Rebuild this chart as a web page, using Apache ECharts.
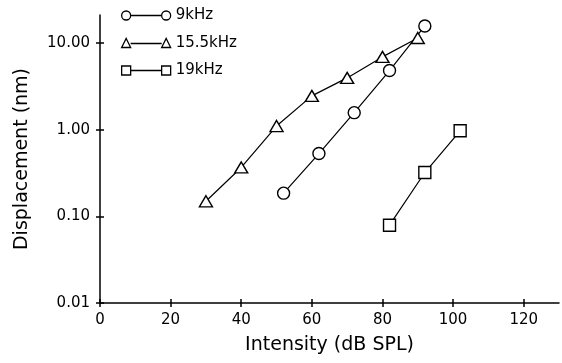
<!DOCTYPE html>
<html>
<head>
<meta charset="utf-8">
<script src="https://cdn.jsdelivr.net/npm/echarts@6/dist/echarts.min.js"></script>
<style>html,body{margin:0;padding:0;background:#fff}#c{width:562px;height:363px}</style>
</head>
<body>
<div id="c"></div>
<script>
var seriesNames = ['9kHz', '15.5kHz', '19kHz'];
var x9 = [52, 62, 72, 82, 92];
var y9 = [0.185, 0.53, 1.57, 4.8, 15.7];
var x155 = [30, 40, 50, 60, 70, 80, 90];
var y155 = [0.149, 0.366, 1.1, 2.45, 3.95, 6.9, 11.4];
var x19 = [82, 92, 102];
var y19 = [0.079, 0.32, 0.97];
var yTicks = [0.01, 0.1, 1, 10];
var xTicks = [0, 20, 40, 60, 80, 100, 120];

function pairs(xs, ys) { return xs.map(function (x, i) { return [x, ys[i]]; }); }

var font = 'DejaVu Sans';
var chart = echarts.init(document.getElementById('c'), null, {renderer: 'canvas'});

var baseX = {
  type: 'value', min: 0, max: 130, interval: 20,
  splitLine: {show: false},
  axisLine: {lineStyle: {color: '#000', width: 1.5}},
  axisTick: {show: true, length: 4, customValues: xTicks, lineStyle: {color: '#000', width: 1.5}},
  axisLabel: {color: '#000', fontFamily: font, fontSize: 15, margin: 10, customValues: xTicks}
};
var baseY = {
  type: 'log', min: 0.01, max: 21,
  splitLine: {show: false},
  axisLine: {lineStyle: {color: '#000', width: 1.5}},
  axisTick: {show: true, length: 4, customValues: yTicks, lineStyle: {color: '#000', width: 1.5}},
  axisLabel: {color: '#000', fontFamily: font, fontSize: 15, margin: 10, customValues: yTicks,
    formatter: function (v) { return Number(v).toFixed(2); }}
};

var symStyle = {color: '#fff', borderColor: '#000', borderWidth: 1.4};
var lineSt = {color: '#000', width: 1.2};

chart.setOption({
  animation: false,
  backgroundColor: '#fff',
  grid: {left: 100, right: 3, top: 15, bottom: 60},
  legend: {
    orient: 'vertical', left: 116, top: 3, itemGap: 12.5,
    itemWidth: 49, itemHeight: 9,
    textStyle: {color: '#000', fontFamily: font, fontSize: 15, padding: [0, 0, 0, 0]},
    itemStyle: {color: '#fff', borderColor: '#000', borderWidth: 1.3},
    data: [
      {name: seriesNames[0], icon: 'path://M0,4.5A4.5,4.5 0 1,1 9,4.5A4.5,4.5 0 1,1 0,4.5ZM9,4.5L40,4.5M40,4.5A4.5,4.5 0 1,1 49,4.5A4.5,4.5 0 1,1 40,4.5Z'},
      {name: seriesNames[1], icon: 'path://M0,9L4.5,0L9,9ZM9,5L40,5M40,9L44.5,0L49,9Z'},
      {name: seriesNames[2], icon: 'path://M0,0L9,0L9,9L0,9ZM9,4.5L40,4.5M40,0L49,0L49,9L40,9Z'}
    ]
  },
  xAxis: [
    Object.assign({}, baseX, {name: 'Intensity (dB SPL)', nameLocation: 'middle', nameGap: 33,
      nameTextStyle: {color: '#000', fontFamily: font, fontSize: 19}}),
    Object.assign({}, baseX, {position: 'bottom', axisLine: {show: false}, axisLabel: {show: false, customValues: xTicks},
      axisTick: {show: true, inside: true, length: 4, customValues: xTicks, lineStyle: {color: '#000', width: 1.5}}})
  ],
  yAxis: [
    Object.assign({}, baseY, {name: 'Displacement (nm)', nameLocation: 'middle', nameGap: 68,
      nameTextStyle: {color: '#000', fontFamily: font, fontSize: 19}}),
    Object.assign({}, baseY, {position: 'left', axisLine: {show: false}, axisLabel: {show: false, customValues: yTicks},
      axisTick: {show: true, inside: true, length: 4, customValues: yTicks, lineStyle: {color: '#000', width: 1.5}}})
  ],
  series: [
    {name: seriesNames[0], type: 'line', data: pairs(x9, y9), symbol: 'circle', symbolSize: 12,
      itemStyle: symStyle, lineStyle: lineSt, z: 3},
    {name: seriesNames[1], type: 'line', data: pairs(x155, y155), symbol: 'triangle', symbolSize: [13, 11],
      itemStyle: symStyle, lineStyle: lineSt, z: 3},
    {name: seriesNames[2], type: 'line', data: pairs(x19, y19), symbol: 'rect', symbolSize: 12,
      itemStyle: symStyle, lineStyle: lineSt, z: 3}
  ]
});
</script>
</body>
</html>
